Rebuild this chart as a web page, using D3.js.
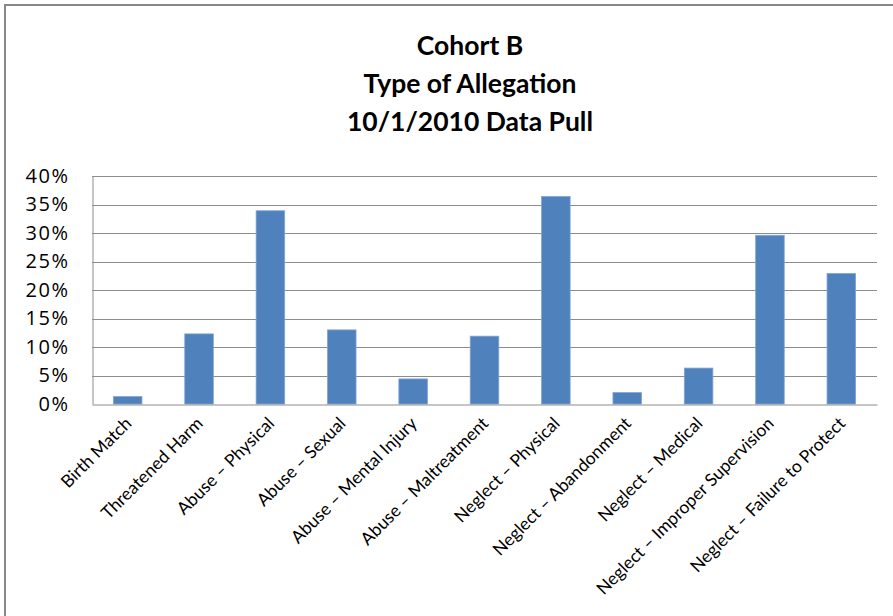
<!DOCTYPE html>
<html><head><meta charset="utf-8">
<script src="https://cdn.jsdelivr.net/npm/d3@7"></script>
<style>
html,body{margin:0;padding:0;background:#fff;}
svg{display:block;}
</style></head>
<body>
<script>
const categories = ["Birth Match","Threatened Harm","Abuse \u2013 Physical","Abuse \u2013 Sexual","Abuse \u2013 Mental Injury","Abuse \u2013 Maltreatment","Neglect \u2013 Physical","Neglect \u2013 Abandonment","Neglect \u2013 Medical","Neglect \u2013 Improper Supervision","Neglect \u2013 Failure to Protect"];
const values = [0.013, 0.123, 0.339, 0.130, 0.044, 0.119, 0.364, 0.020, 0.063, 0.296, 0.229];
const titleLines = ["Cohort B","Type of Allegation","10/1/2010 Data Pull"];
const yTicks = [0,0.05,0.10,0.15,0.20,0.25,0.30,0.35,0.40];

const W = 893, H = 616;
const font = "Lato, 'Open Sans', sans-serif";
const svg = d3.select("body").append("svg").attr("width", W).attr("height", H);
svg.append("rect").attr("width", W).attr("height", H).attr("fill", "#fff");
// outer border
svg.append("path").attr("d", "M5,616 V5 H893").attr("fill","none").attr("stroke","#888").attr("stroke-width",2);

const m = {left: 92, right: 877, top: 176, bottom: 404};
const x = d3.scaleBand().domain(categories).range([m.left, m.right]).paddingInner(0.6).paddingOuter(0.3);
const y = d3.scaleLinear().domain([0, 0.40]).range([m.bottom, m.top]);

// title
svg.append("g").selectAll("text").data(titleLines).join("text")
  .attr("x", 470).attr("y", (d,i) => 55 + i*38)
  .attr("text-anchor","middle").attr("font-family", font).attr("font-weight","bold")
  .attr("font-size", 26.5).attr("fill","#000").text(d => d);

// gridlines
svg.append("g").selectAll("line").data(yTicks.slice(1)).join("line")
  .attr("x1", m.left).attr("x2", m.right)
  .attr("y1", d => Math.round(y(d))+0.5).attr("y2", d => Math.round(y(d))+0.5)
  .attr("stroke","#8c8c8c").attr("stroke-width",1);

// y axis
const yAxis = d3.axisLeft(y).tickValues(yTicks).tickFormat(d3.format(".0%")).tickSize(0).tickPadding(23);
const gy = svg.append("g").attr("transform", `translate(${m.left+0.5},0)`).call(yAxis);
gy.select(".domain").attr("stroke","#8c8c8c");
gy.selectAll("text").attr("font-family", "'Open Sans', sans-serif").attr("font-size", 20)
  .attr("letter-spacing", 1.5).attr("fill","#000");

// bars
svg.append("g").selectAll("rect").data(values).join("rect")
  .attr("x", (d,i) => x(categories[i]))
  .attr("y", d => y(d))
  .attr("width", x.bandwidth())
  .attr("height", d => m.bottom - y(d))
  .attr("fill", "#4F81BD").attr("stroke","#7fa3d3").attr("stroke-width",0.8);

// x axis
const xAxis = d3.axisBottom(x).tickSize(0).tickPadding(0);
const gx = svg.append("g").attr("transform", `translate(0,${m.bottom+0.5})`).call(xAxis);
gx.select(".domain").attr("stroke","#8c8c8c");
gx.selectAll("text")
  .attr("font-family", font).attr("font-size", 17.5).attr("fill","#000")
  .attr("text-anchor","end")
  .attr("dy", 0)
  .attr("transform", "translate(5,20) rotate(-45)");
</script>
</body></html>
